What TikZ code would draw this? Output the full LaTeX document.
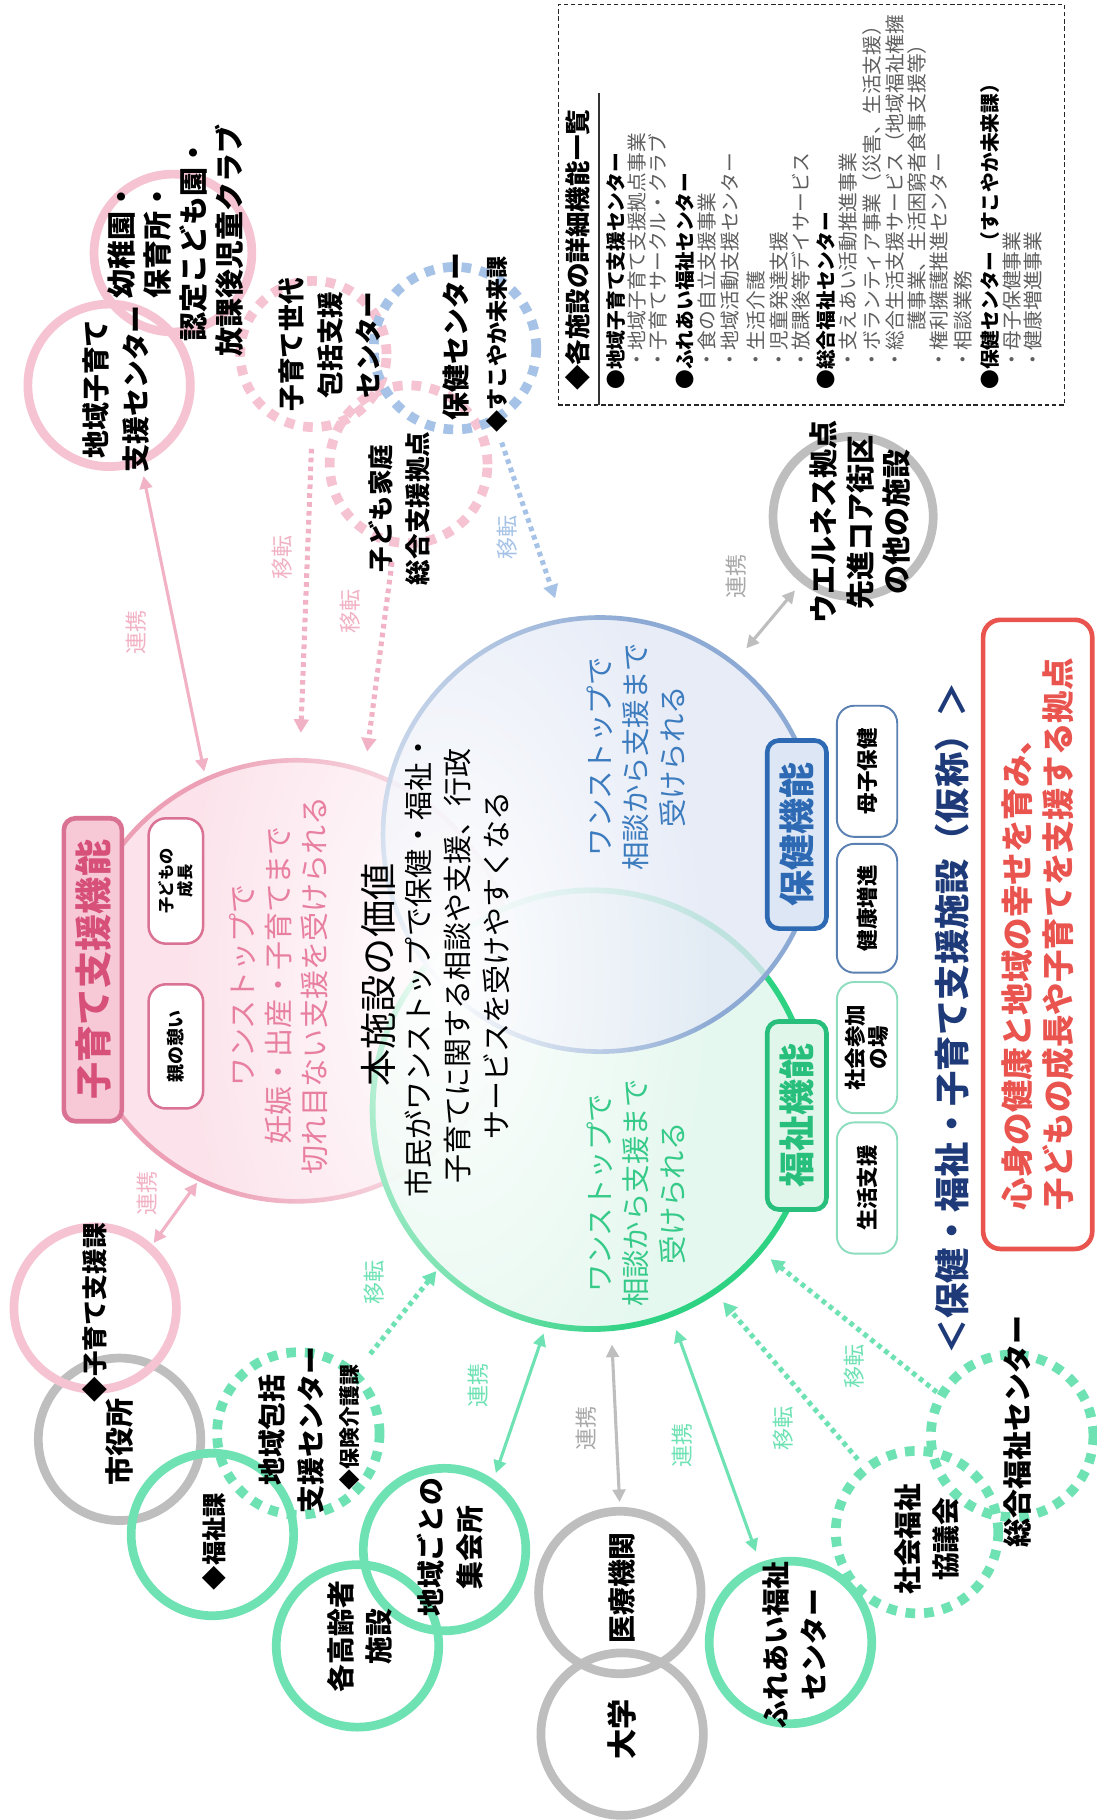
\documentclass[tikz,border=0pt]{standalone}
\usepackage{fontspec}
\setmainfont{Noto Sans CJK JP}
\usetikzlibrary{arrows.meta,fadings}
\newcommand\fsz[2]{\fontsize{\fpeval{#1*0.6}pt}{\fpeval{#2*0.6}pt}\selectfont}
\definecolor{pinkL}{HTML}{F5C3D1}
\definecolor{pinkArr}{HTML}{F2B2C5}
\definecolor{pinkFill}{HTML}{FCE3EB}
\definecolor{pinkLine}{HTML}{EC9FB5}
\definecolor{pinkText}{HTML}{E87FA0}
\definecolor{pinkBoxFill}{HTML}{F7C9D6}
\definecolor{pinkBoxLine}{HTML}{DA7294}
\definecolor{pinkBoxText}{HTML}{D6507A}
\definecolor{blueFill}{HTML}{E2E8F6}
\definecolor{blueLine}{HTML}{8DAAD4}
\definecolor{blueDash}{HTML}{A6C3E7}
\definecolor{blueText}{HTML}{3B7BBE}
\definecolor{blueBoxLine}{HTML}{2D6AB3}
\definecolor{blueBoxFill}{HTML}{DCE6F5}
\definecolor{bluePill}{HTML}{5B80B2}
\definecolor{greenL}{HTML}{6FE2B4}
\definecolor{greenFill}{HTML}{E3F8EE}
\definecolor{greenLine}{HTML}{2ED283}
\definecolor{greenText}{HTML}{36CA89}
\definecolor{greenBoxLine}{HTML}{27BF7B}
\definecolor{greenBoxFill}{HTML}{E0F6EB}
\definecolor{greenPill}{HTML}{8EDDBE}
\definecolor{grayC}{HTML}{BEBEBE}
\definecolor{grayT}{HTML}{A8A8A8}
\definecolor{navy}{HTML}{1E3A78}
\definecolor{redC}{HTML}{E9544F}
\definecolor{legGray}{HTML}{5E5E5E}
\tikzfading[name=glowfade, inner color=transparent!0, outer color=transparent!100]
\begin{document}
\begin{tikzpicture}[x=0.6pt,y=-0.6pt,
  sat/.style={circle, inner sep=0pt, minimum size=84pt, line width=4.5pt},
  pinkring/.style={sat, draw=pinkL},
  grayring/.style={sat, draw=grayC},
  greenring/.style={sat, draw=greenL},
  dashring/.style={sat, line width=5pt, dash pattern=on 5pt off 4.6pt},
  lab/.style={rotate=90, align=center, inner sep=0pt, font=\bfseries\fsz{24}{34}},
  lbl/.style={rotate=90, inner sep=0pt, font=\fsz{19}{22}},
  legh/.style={rotate=90, anchor=west, inner sep=0pt, font=\bfseries\fsz{17}{20}},
  legi/.style={rotate=90, anchor=west, inner sep=0pt, text=legGray, font=\fsz{17}{20}},
  pill/.style={rotate=90, draw, fill=white, line width=1pt, rounded corners=9pt, inner sep=0pt, align=center, font=\bfseries\fsz{18.5}{20}},
  funcbox/.style={rotate=90, line width=2.4pt, rounded corners=6pt, inner sep=0pt, font=\bfseries\fsz{31}{36}},
  solidarr/.style={line width=1.6pt, {Triangle[length=6.5pt,width=6.5pt]}-{Triangle[length=6.5pt,width=6.5pt]}},
  dotarr/.style={line width=2.6pt, dash pattern=on 2.4pt off 2.2pt, -{Triangle[length=7pt,width=7.5pt]}},
]
\useasboundingbox (0,0) rectangle (945,1568);
\fill[white] (0,0) rectangle (945,1568);

% ---------- legend ----------
\node[draw=black!85, line width=0.7pt, dash pattern=on 2.2pt off 1.5pt, minimum width=261.6pt, minimum height=207pt, inner sep=0pt] (legbox) at (699,176.5) {};
\draw[black!80, line width=0.9pt] (516,80) -- (516,349);
\node[legh, font=\bfseries\fsz{22}{24}] (legt) at (498,337) {◆各施設の詳細機能一覧};
\node[legh] (l1) at (531,336) {●地域子育て支援センター};
\node[legi] (l2) at (549,319) {・地域子育て支援拠点事業};
\node[legi] (l3) at (567,319) {・子育てサークル・クラブ};
\node[legh] (l4) at (590,336) {●ふれあい福祉センター};
\node[legi] (l5) at (609,319) {・食の自立支援事業};
\node[legi] (l6) at (629,319) {・地域活動支援センター};
\node[legi] (l7) at (651,319) {・生活介護};
\node[legi] (l8) at (671,319) {・児童発達支援};
\node[legi] (l9) at (690,319) {・放課後等デイサービス};
\node[legh] (l10) at (712,336) {●総合福祉センター};
\node[legi] (l11) at (731,319) {・支えあい活動推進事業};
\node[legi] (l12) at (751,319) {・ボランティア事業（災害、生活支援）};
\node[legi] (l13) at (771,319) {・総合生活支援サービス（地域福祉権擁};
\node[legi] (l14) at (790,285) {護事業、生活困窮者食事支援等）};
\node[legi] (l15) at (809,319) {・権利擁護推進センター};
\node[legi] (l16) at (830,319) {・相談業務};
\node[legh] (l17) at (853,336) {●保健センター（すこやか未来課）};
\node[legi] (l18) at (872,319) {・母子保健事業};
\node[legi] (l19) at (890,319) {・健康増進事業};

% ---------- title and red box ----------
\node[rotate=90, inner sep=0pt, text=navy, font=\bfseries\fsz{30.5}{34}] (title) at (820,877) {＜保健・福祉・子育て支援施設（仮称）＞};
\node[rotate=90, draw=redC, line width=2.4pt, rounded corners=9pt, minimum width=325.2pt, minimum height=56.4pt, inner sep=0pt, align=left, text=redC, font=\bfseries\fsz{28}{35}] (redbox) at (894,805) {心身の健康と地域の幸せを育み、\\子どもの成長や子育てを支援する拠点};

% ---------- big circles ----------
\node[circle, inner sep=0pt, minimum size=228pt, fill=pinkFill, draw=pinkLine, line width=2.4pt] (pinkC) at (255,845) {};
\node[circle, inner sep=0pt, minimum size=226.8pt, fill=greenFill, fill opacity=0.9, draw=greenLine, line width=3pt] (greenC) at (510,956) {};
\node[circle, inner sep=0pt, minimum size=224.4pt, fill=blueFill, fill opacity=0.8, draw=blueLine, line width=2.4pt] (blueC) at (517,719) {};
\fill[white, path fading=glowfade] (385,838) ellipse [x radius=230, y radius=420];

% function box (child care)
\node[funcbox, draw=pinkBoxLine, fill=pinkBoxFill, text=pinkBoxText, minimum width=156.6pt, minimum height=30pt, font=\bfseries\fsz{32}{36}] (kbox) at (80,835.5) {子育て支援機能};
\node[pill, draw=pinkBoxLine, line width=1.3pt, minimum width=64.8pt, minimum height=28.2pt, font=\bfseries\fsz{14}{16}] (pp1) at (151.5,759) {子どもの\\成長};
\node[pill, draw=pinkBoxLine, line width=1.3pt, minimum width=64.2pt, minimum height=28.2pt, font=\bfseries\fsz{15.5}{18}] (pp2) at (151.5,901.5) {親の憩い};
\node[rotate=90, align=center, inner sep=0pt, text=pinkText, font=\fsz{25}{31}] (ptext) at (240,849) {ワンストップで\\妊娠・出産・子育てまで\\切れ目ない支援を受けられる};

\node[rotate=90, align=center, inner sep=0pt, text=blueText, font=\fsz{24.5}{31.5}] (btext) at (548,652) {ワンストップで\\相談から支援まで\\受けられる};
\node[rotate=90, align=center, inner sep=0pt, text=greenText, font=\fsz{24.5}{31.5}] (gtext) at (548,1028) {ワンストップで\\相談から支援まで\\受けられる};

\node[rotate=90, inner sep=0pt, font=\fsz{32}{36}] (vtitle) at (326,840) {本施設の価値};
\node[rotate=90, align=center, inner sep=0pt, font=\fsz{25}{33.5}] (vtext) at (394,832) {市民がワンストップで保健・福祉・\\子育てに関する相談や支援、行政\\サービスを受けやすくなる};

\node[funcbox, draw=blueBoxLine, fill=blueBoxFill, text=blueBoxLine, minimum width=97.2pt, minimum height=30.6pt] (hbox) at (686.5,719) {保健機能};
\node[funcbox, draw=greenBoxLine, fill=greenBoxFill, text=greenBoxLine, minimum width=97.2pt, minimum height=30.6pt] (wbox) at (686.5,961) {福祉機能};
\node[pill, draw=bluePill, minimum width=67.8pt, minimum height=31.2pt] (bp1) at (747,664.5) {母子保健};
\node[pill, draw=bluePill, minimum width=66.6pt, minimum height=31.2pt] (bp2) at (747,782.5) {健康増進};
\node[pill, draw=greenPill, minimum width=67.8pt, minimum height=31.2pt] (gp1) at (747,902.5) {社会参加\\の場};
\node[pill, draw=greenPill, minimum width=67.8pt, minimum height=31.2pt] (gp2) at (747,1023.5) {生活支援};

% ---------- satellite circles ----------
\node[pinkring] (c1) at (94,332) {};
\node[pinkring, minimum size=81.6pt] (c2) at (149,218) {};
\node[dashring, draw=pinkL, minimum size=75.6pt] (c3) at (270,305) {};
\node[dashring, draw=pinkL, minimum size=81.6pt] (c4) at (352,400) {};
\node[dashring, draw=blueDash] (c5) at (392,300) {};
\node[grayring] (c7) at (103,1240) {};
\node[pinkring] (c6) at (82,1127) {};
\node[greenring] (c8) at (183,1322) {};
\node[dashring, draw=greenL] (c9) at (257,1235) {};
\node[greenring] (c11) at (308,1418) {};
\node[greenring] (c10) at (383,1335) {};
\node[grayring] (c12) at (534,1372) {};
\node[grayring] (c13) at (536,1494) {};
\node[greenring] (c14) at (681,1415) {};
\node[dashring, draw=greenL] (c15) at (790,1320) {};
\node[dashring, draw=greenL] (c16) at (872,1237) {};
\node[grayring, minimum size=82.8pt] (c17) at (735,445) {};

\node[lab] (t1) at (100,335) {地域子育て\\支援センター};
\node[lab, font=\bfseries\fsz{25}{31}] (t2) at (151,207) {幼稚園・\\保育所・\\認定こども園・\\放課後児童クラブ};
\node[lab, font=\bfseries\fsz{23}{33}] (t3) at (284,297) {子育て世代\\包括支援\\センター};
\node[lab, font=\bfseries\fsz{22}{32}] (t4) at (344,438) {子ども家庭\\総合支援拠点};
\node[lab] (t5) at (393,290) {保健センター};
\node[lab, font=\bfseries\fsz{19}{22}] (t5b) at (428,297) {◆すこやか未来課};
\node[lab, font=\bfseries\fsz{22}{26}] (t6) at (82,1131) {◆子育て支援課};
\node[lab, font=\bfseries\fsz{25}{28}] (t7) at (103,1242) {市役所};
\node[lab, font=\bfseries\fsz{21}{24}] (t8) at (185,1328) {◆福祉課};
\node[lab, font=\bfseries\fsz{24}{33}] (t9) at (251,1232) {地域包括\\支援センター};
\node[lab, font=\bfseries\fsz{18}{22}] (t9b) at (301,1230) {◆保険介護課};
\node[lab] (t10) at (388,1333) {地域ごとの\\集会所};
\node[lab, font=\bfseries\fsz{24}{32}] (t11) at (310,1410) {各高齢者\\施設};
\node[lab] (t12) at (536,1368) {医療機関};
\node[lab, font=\bfseries\fsz{26}{30}] (t13) at (536,1490) {大学};
\node[lab, font=\bfseries\fsz{24}{33}] (t14) at (684.5,1417) {ふれあい福祉\\センター};
\node[lab, font=\bfseries\fsz{24}{33}] (t15) at (798.5,1326) {社会福祉\\協議会};
\node[lab, font=\bfseries\fsz{25}{28}] (t16) at (877,1233) {総合福祉センター};
\node[lab, font=\bfseries\fsz{25}{31.5}] (t17) at (741,450) {ウエルネス拠点\\先進コア街区\\の他の施設};

% ---------- connectors ----------
\draw[solidarr, color=pinkArr, shorten <=6pt, shorten >=3pt] (c1.-68.6) -- (pinkC.114);
\draw[dotarr, color=pinkArr, shorten <=8.7pt, shorten >=13pt] (c3.-91.4) -- (pinkC.89);
\draw[dotarr, color=pinkArr, shorten <=8pt, shorten >=9pt] (c4.-100.4) -- (pinkC.72.8);
\draw[dotarr, color=blueDash, shorten <=10pt, shorten >=11pt] (c5.-62) -- (blueC.100.3);
\draw[solidarr, color=grayC, shorten <=5pt, shorten >=9pt] (c17.-128.4) -- (blueC.52.3);
\draw[solidarr, color=pinkArr, shorten <=1pt, shorten >=1pt] (c6.48.2) -- (pinkC.-116.3);
\draw[dotarr, color=greenL, shorten <=11pt, shorten >=1pt] (c9.47.2) -- (greenC.-134.6);
\draw[solidarr, color=greenL, shorten <=3.5pt, shorten >=3.5pt] (c10.55.7) -- (greenC.-102.6);
\draw[solidarr, color=grayC, shorten <=2.5pt, shorten >=7pt] (c12.90) -- (greenC.-85.2);
\draw[solidarr, color=greenL, shorten <=6pt, shorten >=7pt] (c14.111.7) -- (greenC.-69.5);
\draw[dotarr, color=greenL, shorten <=4pt, shorten >=5.5pt] (c15.129.4) -- (greenC.-56.2);
\draw[dotarr, color=greenL, shorten <=0.5pt, shorten >=5.5pt] (c16.150.6) -- (greenC.-40.1);

\node[lbl, text=pinkArr] (k1) at (117,545) {連携};
\node[lbl, text=pinkArr] (m1) at (243,480) {移転};
\node[lbl, text=pinkArr] (m2) at (302,527) {移転};
\node[lbl, text=blueDash] (m3) at (437,463) {移転};
\node[lbl, text=grayT] (k2) at (634,497) {連携};
\node[lbl, text=pinkArr] (k3) at (127,1028) {連携};
\node[lbl, text=greenL] (m4) at (322,1105) {移転};
\node[lbl, text=greenL] (k4) at (412,1194) {連携};
\node[lbl, text=grayT] (k5) at (505,1231) {連携};
\node[lbl, text=greenL] (k6) at (588,1245) {連携};
\node[lbl, text=greenL] (m5) at (675,1231) {移転};
\node[lbl, text=greenL] (m6) at (736,1177) {移転};
\end{tikzpicture}
\end{document}
